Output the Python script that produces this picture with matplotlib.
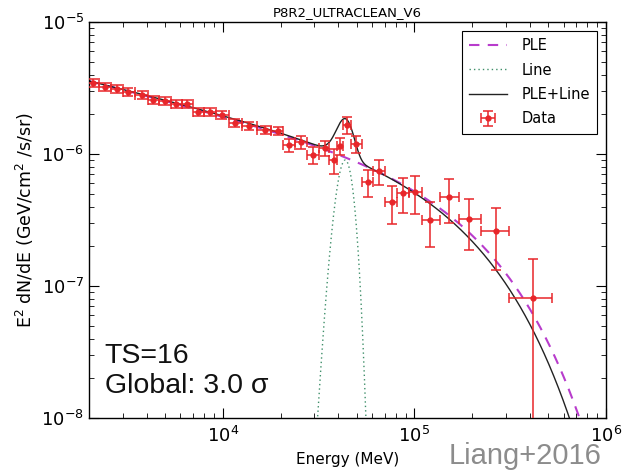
import numpy as np
import matplotlib
matplotlib.use("Agg")
import matplotlib.pyplot as plt
from matplotlib.ticker import LogLocator, NullFormatter

# ---- measured spectrum (E^2 dN/dE, GeV/cm^2/s/sr) ----
energy = [2099, 2426, 2803, 3201, 3788, 4326, 4998, 5708, 6518, 7442,
          8601, 9938, 11625, 13760, 16490, 19290, 22030, 25450, 29410, 33990,
          37880, 40730, 44320, 49410, 57080, 65180, 76240, 87020, 100600, 120500,
          151600, 192900, 267200, 417300]
flux = [3.451e-6, 3.218e-6, 3.108e-6, 2.950e-6, 2.799e-6, 2.565e-6, 2.521e-6, 2.392e-6,
        2.392e-6, 2.080e-6, 2.080e-6, 1.974e-6, 1.717e-6, 1.630e-6, 1.520e-6, 1.494e-6,
        1.170e-6, 1.233e-6, 0.983e-6, 1.110e-6, 0.901e-6, 1.150e-6, 1.659e-6, 1.191e-6,
        0.614e-6, 0.743e-6, 0.433e-6, 0.506e-6, 0.515e-6, 0.316e-6, 0.472e-6, 0.322e-6,
        0.261e-6, 0.0811e-6]
flux_err = [0.248e-6, 0.232e-6, 0.224e-6, 0.212e-6, 0.202e-6, 0.185e-6, 0.182e-6, 0.172e-6,
            0.172e-6, 0.150e-6, 0.150e-6, 0.142e-6, 0.124e-6, 0.117e-6, 0.109e-6, 0.108e-6,
            0.129e-6, 0.136e-6, 0.147e-6, 0.144e-6, 0.190e-6, 0.173e-6, 0.249e-6, 0.179e-6,
            0.143e-6, 0.157e-6, 0.139e-6, 0.151e-6, 0.166e-6, 0.117e-6, 0.174e-6, 0.134e-6,
            0.129e-6, 0.079e-6]
# energy bin edges (MeV)
bin_edges = [1953, 2257, 2608, 2995, 3483, 4049, 4651, 5343, 6101, 6966,
             8000, 9247, 10750, 12650, 15070, 17840, 20610, 23670, 27360, 31620,
             35890, 39290, 42490, 46780, 53110, 61010, 70500, 81470, 93590, 110100,
             135200, 171000, 222900, 312500, 524800]

# ---- fitted models ----
# power law with exponential cutoff (PLE only)
ple_norm, ple_index, ple_cutoff = 2.01e-6, 2.363, 1.94e5
# joint fit: PLE + gamma-ray line
comb_norm, comb_index, comb_cutoff = 2.065e-6, 2.348, 1.66e5
line_energy, line_sigma, line_amp = 43.5e3, 4.1e3, 9.0e-7
pivot = 1.0e4


def ple(e, norm, index, cutoff):
    return norm * (e / pivot) ** (2.0 - index) * np.exp(-e / cutoff)


def line(e):
    return line_amp * np.exp(-0.5 * ((e - line_energy) / line_sigma) ** 2)


plt.rcParams['font.family'] = ['DejaVu Sans']
plt.rcParams['mathtext.default'] = 'regular'

fig = plt.figure(figsize=(6.27, 4.73), dpi=100)
ax = fig.add_axes([0.142, 0.1163, 0.8245, 0.8372])

e_grid = np.logspace(np.log10(1500), 6.1, 3000)
ple_curve = ple(e_grid, ple_norm, ple_index, ple_cutoff)
line_curve = line(e_grid)
line_curve = np.where(line_curve > 1e-12, line_curve, np.nan)
comb_curve = ple(e_grid, comb_norm, comb_index, comb_cutoff) + line(e_grid)

ax.plot(e_grid, ple_curve, ls=(0, (5, 4)), color='#b83ccc', lw=1.5, label='PLE')
ax.plot(e_grid, line_curve, ls=(0, (1, 2.2)), color='#3f8f6a', lw=1.0, label='Line')
ax.plot(e_grid, comb_curve, ls='-', color='#222222', lw=1.0, label='PLE+Line')

e = np.array(energy)
edges = np.array(bin_edges)
xerr = np.vstack([e - edges[:-1], edges[1:] - e])
ax.errorbar(e, flux, yerr=flux_err, xerr=xerr, fmt='o', color='#e8262a', ms=3.5,
            elinewidth=1.1, capsize=3.5, capthick=1.1, label='Data', zorder=3)

ax.set_xscale('log')
ax.set_yscale('log')
ax.set_xlim(2000, 1e6)
ax.set_ylim(1e-8, 1e-5)

ax.tick_params(which='both', direction='in', top=True, right=True, labelsize=13)
ax.tick_params(which='major', length=7, width=0.8)
ax.tick_params(which='minor', length=3.5, width=0.6)
ax.tick_params(axis='x', pad=6)
ax.xaxis.set_minor_locator(LogLocator(base=10, subs=np.arange(2, 10)))
ax.yaxis.set_minor_locator(LogLocator(base=10, subs=np.arange(2, 10)))
ax.xaxis.set_minor_formatter(NullFormatter())
ax.yaxis.set_minor_formatter(NullFormatter())
for s in ax.spines.values():
    s.set_linewidth(1.0)

ax.set_xlabel('Energy (MeV)', fontsize=11)
ax.set_ylabel(r'E$^2$ dN/dE (GeV/cm$^2$ /s/sr)', fontsize=12.5)
ax.set_title('P8R2_ULTRACLEAN_V6', fontsize=9.5, pad=4)

leg = ax.legend(loc='upper right', fontsize=10.5, frameon=True, fancybox=False,
                edgecolor='black', framealpha=1, handlelength=2.6,
                handletextpad=1.0, labelspacing=0.65, borderpad=0.5,
                borderaxespad=0.6)
leg.get_frame().set_linewidth(0.8)

fig.text(0.167, 0.232, 'TS=16', fontsize=20.5, family='Liberation Sans', color='#111111')
fig.text(0.167, 0.169, 'Global: 3.0 σ', fontsize=20.5, family='Liberation Sans', color='#111111')
fig.text(0.716, 0.018, 'Liang+2016', fontsize=21, family='Liberation Sans', color='#8c8c8c')

fig.savefig('out.png', dpi=100, facecolor='white')
